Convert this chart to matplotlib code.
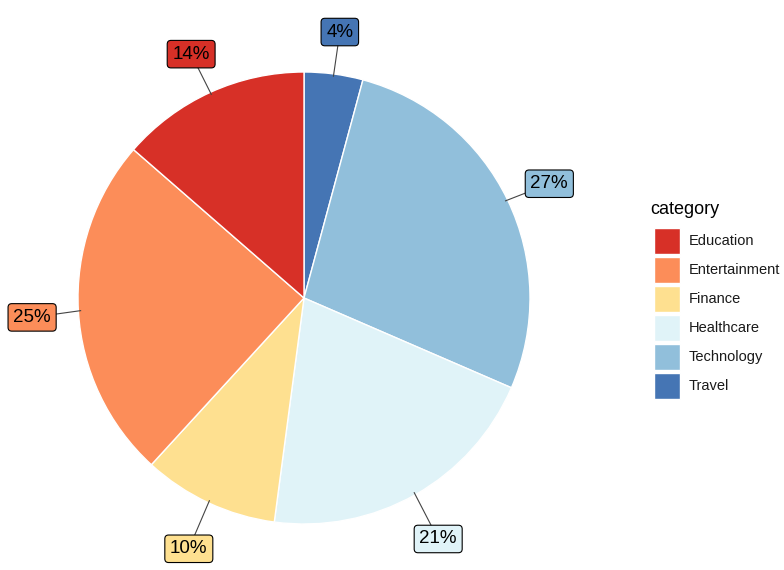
import matplotlib
matplotlib.use("Agg")
import matplotlib.pyplot as plt
from matplotlib.patches import Rectangle
import numpy as np

plt.rcParams['font.family'] = ['Liberation Sans', 'DejaVu Sans']

categories = ["Education", "Entertainment", "Finance", "Healthcare", "Technology", "Travel"]
shares = [13.6, 24.6, 9.7, 20.6, 27.3, 4.2]
colors = ["#D73027", "#FC8D59", "#FEE090", "#E0F3F8", "#91BFDB", "#4575B4"]

fig = plt.figure(figsize=(7.84, 5.70), dpi=100)
ax = fig.add_axes([0, 0, 1, 1])

cx, cy, R = 304, 272, 226
# pie drawn clockwise from top in reversed category order
vals = shares[::-1]
cols = colors[::-1]
wedges, _ = ax.pie(vals, colors=cols, startangle=90, counterclock=False,
                   center=(cx, cy), radius=R, frame=True,
                   wedgeprops=dict(edgecolor='white', linewidth=1.0))
ax.set_xlim(0, 784)
ax.set_ylim(0, 570)
ax.set_aspect('equal')
ax.axis('off')

total = sum(vals)
cum = 0
for v, c in zip(vals, cols):
    mid = (cum + v / 2) / total * 2 * np.pi
    cum += v
    dx, dy = np.sin(mid), np.cos(mid)
    r_lab = 1.205 * R
    lx, ly = cx + dx * r_lab, cy + dy * r_lab - 4
    ax.plot([cx + dx * R * 0.99, lx], [cy + dy * R * 0.99, ly],
            color='#444444', linewidth=0.8, zorder=3)
    ax.text(lx, ly, f"{v:.0f}%", ha='center', va='center',
            fontsize=13.5, color='black', zorder=4,
            bbox=dict(boxstyle='round,pad=0.28,rounding_size=0.2', facecolor=c,
                      edgecolor='black', linewidth=0.8))

# legend
ax.text(650, 570 - 210, "category", fontsize=13, ha='left', va='center', color='black')
for i, (cat, col) in enumerate(zip(categories, colors)):
    yc = 570 - (241 + 29 * i)
    ax.add_patch(Rectangle((654, yc - 13), 26, 26, facecolor=col, edgecolor='white', linewidth=1))
    ax.text(689, yc, cat, fontsize=10.5, ha='left', va='center', color='#1a1a1a')

fig.savefig("out.png", dpi=100)
